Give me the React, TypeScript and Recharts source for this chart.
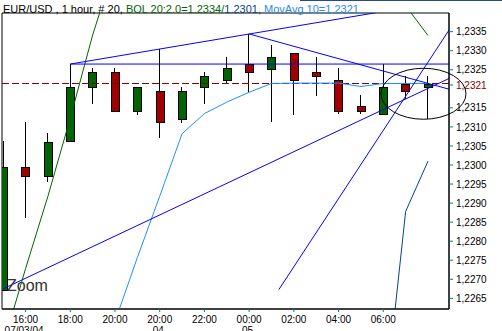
import React from 'react';
import {
  ComposedChart,
  Bar,
  Line,
  XAxis,
  YAxis,
  ReferenceLine,
  ReferenceDot,
  ReferenceArea,
} from 'recharts';

// hourly EUR/USD candles, index 0..19
const candleIdx = [0, 1, 2, 3, 4, 5, 6, 7, 8, 9, 10, 11, 12, 13, 14, 15, 16, 17, 18, 19];
const opens = [1.22673, 1.22994, 1.22972, 1.23062, 1.23204, 1.23243, 1.23143, 1.23193, 1.23122, 1.23204, 1.23222, 1.23264, 1.23253, 1.23293, 1.23243, 1.23222, 1.23154, 1.23133, 1.23213, 1.23204];
const closes = [1.22994, 1.22972, 1.23061, 1.23204, 1.23243, 1.23143, 1.23204, 1.23112, 1.23193, 1.23233, 1.23254, 1.23243, 1.23283, 1.23222, 1.23233, 1.23143, 1.23143, 1.23204, 1.23193, 1.23213];
const highs = [1.23062, 1.23112, 1.23083, 1.23265, 1.23254, 1.23254, 1.23204, 1.23304, 1.23204, 1.23244, 1.23283, 1.23344, 1.23315, 1.23293, 1.23284, 1.23254, 1.23183, 1.23264, 1.23233, 1.23233];
const lows = [1.2267, 1.2286, 1.22955, 1.23062, 1.2316, 1.23143, 1.23132, 1.23072, 1.23111, 1.23161, 1.23214, 1.23191, 1.23112, 1.23132, 1.23182, 1.23133, 1.23133, 1.23133, 1.23174, 1.2312];

// indicators
const bolUpper = [1.22528, 1.22728, 1.22918, 1.23123, 1.23341, 1.23526, 1.2358, 1.236, 1.2361, 1.2361, 1.236, 1.2359, 1.2358, 1.2357, 1.2356, 1.2355, 1.2353, 1.2351, 1.23418, 1.2334];
const bolLower = [null, null, null, null, null, null, null, null, null, null, null, null, null, null, null, null, null, 1.22333, 1.22878, 1.2301];
const movAvg = [null, null, null, null, null, 1.22589, 1.22757, 1.22918, 1.23082, 1.23135, 1.23165, 1.23191, 1.23214, 1.23215, 1.23215, 1.23215, 1.23206, 1.23214, 1.23214, 1.23214];

// axis labels
const timeTicks = [1, 3, 5, 7, 9, 11, 13, 15, 17];
const timeLabels = ['16:00', '18:00', '20:00', '20:00', '22:00', '00:00', '02:00', '04:00', '06:00'];
const dateTicks = [1, 7, 11];
const dateLabels = ['07/03/04', '04', '05'];
const priceTicks = [1.2265, 1.227, 1.2275, 1.228, 1.2285, 1.229, 1.2295, 1.23, 1.2305, 1.231, 1.2315, 1.2321, 1.2325, 1.233, 1.2335];
const lastPrice = 1.2321;
const lastLine = 1.23214;

const X_MIN = -0.054;
const X_MAX = 19.94;
const Y_MIN = 1.22622;
const Y_MAX = 1.23399;

const data = candleIdx.map((i) => ({
  idx: i,
  open: opens[i],
  close: closes[i],
  high: highs[i],
  low: lows[i],
  range: [lows[i], highs[i]],
  upper: bolUpper[i],
  lower: bolLower[i],
  ma: movAvg[i],
}));

const FONT = '"Liberation Sans", Arial, sans-serif';

const Candle = (props: any) => {
  const { x, width, payload } = props;
  let { y, height } = props;
  if (height < 0) {
    y = y + height;
    height = -height;
  }
  const { open, close, high, low } = payload;
  const k = height / (high - low);
  const yO = y + (high - open) * k;
  const yC = y + (high - close) * k;
  const top = Math.round(Math.min(yO, yC));
  const bot = Math.round(Math.max(yO, yC));
  const cx = Math.round(x + width / 2) - 0.5;
  const up = close >= open;
  return (
    <g>
      <line x1={cx} x2={cx} y1={Math.round(y)} y2={Math.round(y + height)} stroke="#000" />
      <rect
        x={Math.round(x) + 0.5}
        y={top + 0.5}
        width={width - 1}
        height={Math.max(1, bot - top)}
        fill={up ? '#006400' : '#a00000'}
        stroke="#000"
      />
    </g>
  );
};

const TimeTick = (props: any) => {
  const { x, y, payload } = props;
  const t = timeTicks.indexOf(payload.value);
  const d = dateTicks.indexOf(payload.value);
  return (
    <g fontFamily={FONT} fontSize={10} fill="#000">
      <text x={x} y={y + 9} textAnchor="middle">{timeLabels[t]}</text>
      {d >= 0 && (
        <text x={x - 1.5} y={y + 20} textAnchor="middle">{dateLabels[d]}</text>
      )}
    </g>
  );
};

const PriceTick = (props: any) => {
  const { x, y, payload } = props;
  const cur = Math.abs(payload.value - lastPrice) < 1e-7;
  return (
    <text x={x} y={y} dy="0.36em" fontFamily={FONT} fontSize={10} fill={cur ? '#800000' : '#000'}>
      {payload.value.toFixed(4).replace('.', ',')}
    </text>
  );
};

const Ellipse = (props: any) => (
  <ellipse cx={props.cx} cy={props.cy} rx={42.5} ry={25.5} fill="none" stroke="#000" strokeWidth={1} />
);

export default function App() {
  return (
    <div style={{ position: 'absolute', left: 0, top: 0, width: 502, height: 331, background: '#fff' }}>
      <ComposedChart
        width={502}
        height={331}
        data={data}
        margin={{ top: 13, right: 0, bottom: 0, left: 2 }}
      >
        <XAxis
          dataKey="idx"
          type="number"
          domain={[X_MIN, X_MAX]}
          allowDataOverflow
          ticks={timeTicks}
          tick={<TimeTick />}
          tickSize={3}
          tickLine={{ stroke: '#008080' }}
          axisLine={{ stroke: '#000' }}
          height={22}
          interval={0}
        />
        <YAxis
          orientation="right"
          type="number"
          domain={[Y_MIN, Y_MAX]}
          allowDataOverflow
          ticks={priceTicks}
          tick={<PriceTick />}
          tickSize={4}
          tickMargin={3}
          tickLine={{ stroke: '#008080' }}
          axisLine={{ stroke: '#000' }}
          width={53}
          interval={0}
        />
        <ReferenceArea x1={X_MIN} x2={X_MAX} y1={Y_MIN} y2={Y_MAX} fill="none" stroke="#000" ifOverflow="visible" />
        <ReferenceLine y={lastLine} stroke="#800000" strokeDasharray="7 3" />
        <Bar dataKey="range" barSize={9} shape={<Candle />} isAnimationActive={false} />
        <Line dataKey="upper" type="linear" stroke="#006400" strokeWidth={1} dot={false} isAnimationActive={false} />
        <Line dataKey="lower" type="linear" stroke="#00468c" strokeWidth={1} dot={false} isAnimationActive={false} />
        <Line dataKey="ma" type="linear" stroke="#1e90ff" strokeWidth={1} dot={false} isAnimationActive={false} />
        <ReferenceLine segment={[{ x: 3, y: 1.23265 }, { x: X_MAX, y: 1.23265 }]} stroke="#0000ff" ifOverflow="hidden" />
        <ReferenceLine segment={[{ x: 3, y: 1.23265 }, { x: X_MAX, y: 1.23432 }]} stroke="#0000ff" ifOverflow="hidden" />
        <ReferenceLine segment={[{ x: 11, y: 1.23344 }, { x: X_MAX, y: 1.23199 }]} stroke="#0000ff" ifOverflow="hidden" />
        <ReferenceLine segment={[{ x: 0, y: 1.22675 }, { x: X_MAX, y: 1.23227 }]} stroke="#0000ff" ifOverflow="hidden" />
        <ReferenceLine segment={[{ x: 12.33, y: 1.22673 }, { x: X_MAX, y: 1.23354 }]} stroke="#0000ff" ifOverflow="hidden" />
        <ReferenceDot x={18.8} y={1.23187} shape={<Ellipse />} ifOverflow="visible" />
      </ComposedChart>
      <svg width={502} height={331} style={{ position: 'absolute', left: 0, top: 0, pointerEvents: 'none' }}>
        <rect x={300} y={0} width={202} height={1} fill="#274b82" />
        <text x={3} y={12.7} fontFamily={FONT} fontSize={11}>
          <tspan fill="#000">EUR/USD , 1 hour, # 20, </tspan>
          <tspan fill="#006400">BOL 20:2.0=1.2334/</tspan>
          <tspan fill="#00468c">1.2301, </tspan>
          <tspan fill="#1e8cf0">MovAvg 10=1.2321</tspan>
        </text>
        <text x={7} y={290.5} fontFamily={FONT} fontSize={16} fill="#333">Zoom</text>
      </svg>
    </div>
  );
}
